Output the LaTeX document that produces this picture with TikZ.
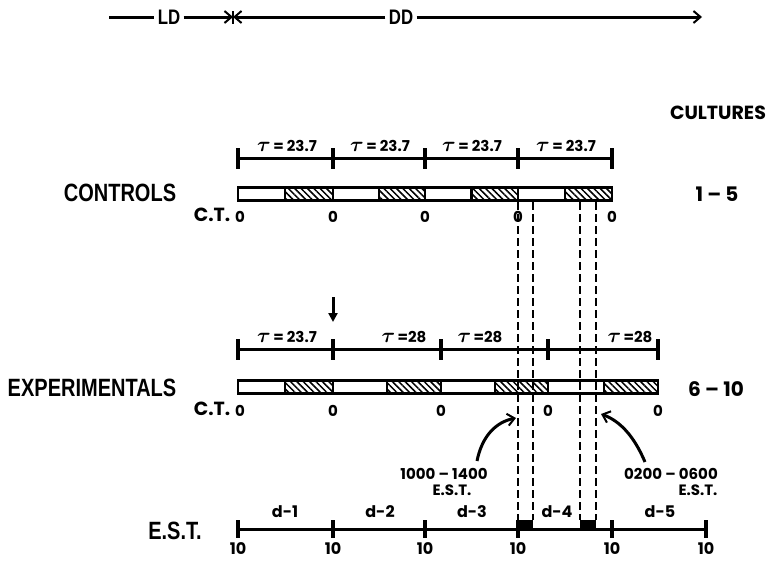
\documentclass[tikz,border=0pt]{standalone}
\usepackage{fontspec}
\setmainfont{Poppins}
\newfontfamily\narrowfont[FakeStretch=0.8]{Liberation Sans}
\usetikzlibrary{arrows.meta,patterns.meta}

\newcommand{\tauval}[1]{{\fontsize{21}{21}\selectfont\boldmath$\tau$}\,#1}

\tikzset{
  bigtext/.style={font=\narrowfont\bfseries\fontsize{25}{25}\selectfont},
  toptext/.style={font=\narrowfont\bfseries\fontsize{21}{21}\selectfont},
  midtext/.style={font=\bfseries\fontsize{19}{19}\selectfont},
  daytext/.style={font=\fontsize{16}{16}\selectfont\bfseries, inner sep=1pt},
  smalltext/.style={font=\bfseries\fontsize{15}{15}\selectfont},
  taulabel/.style={font=\bfseries\fontsize{15}{15}\selectfont, inner sep=1pt},
  tick/.style={fill=black, minimum width=3.2pt, minimum height=21pt, inner sep=0pt, outer sep=0pt},
  axis/.style={line width=3pt},
  blank/.style={draw, line width=2.4pt, minimum height=13pt, inner sep=0pt, outer sep=0pt},
  hatched/.style={blank, pattern={Lines[angle=-45,distance=4.5pt,line width=1.5pt]}},
  block/.style={fill=black, minimum height=10pt, inner sep=0pt, outer sep=0pt},
  dashline/.style={line width=2pt, dash pattern=on 8pt off 4pt},
  barb/.style={-{Straight Barb[length=7pt,width=12pt,line width=2pt]}},
}

\begin{document}
\begin{tikzpicture}[x=1pt,y=-1pt]
\useasboundingbox (0,0) rectangle (766,562);
% LD / DD line
\coordinate (lds) at (109,17);
\coordinate (dde) at (702,17);
\node[toptext] (LD) at (169,17) {LD};
\node[toptext] (DD) at (401,17) {DD};
\node[fill=black, minimum width=2.5pt, minimum height=13pt, inner sep=0pt] (star) at (233,17) {};
\path [axis] (lds) edge (LD);
\path [axis,barb] (LD) edge (star.center);
\path [axis,barb] (DD) edge (star.center);
\path [axis,barb] (DD) edge (dde);

\node[midtext] (cult) at (718,113) {CULTURES};

% controls
\node[bigtext] (ctrl) at (120,193) {CONTROLS};
\node[midtext, font=\bfseries\fontsize{20}{20}\selectfont] (c15) at (717,194) {1 -- 5};
 \begin{scope}[every node/.style={tick}]
  \node (ct0) at (238,158) {};
  \node (ct1) at (333,158) {};
  \node (ct2) at (425,158) {};
  \node (ct3) at (518,158) {};
  \node (ct4) at (612,158) {};
 \end{scope}
  \path [axis] (ct0) edge (ct1);
  \path [axis] (ct1) edge (ct2);
  \path [axis] (ct2) edge (ct3);
  \path [axis] (ct3) edge (ct4);
 \begin{scope}[every node/.style={taulabel}]
  \node (ctau1) at (287,146) {\tauval{= 23.7}};
  \node (ctau2) at (380,146) {\tauval{= 23.7}};
  \node (ctau3) at (472,146) {\tauval{= 23.7}};
  \node (ctau4) at (566,146) {\tauval{= 23.7}};
 \end{scope}
  \node[blank, minimum width=47pt] (cw1) at (261.5,194) {};
  \node[hatched, minimum width=48pt] (ch1) at (309,194) {};
  \node[blank, minimum width=46pt] (cw2) at (356,194) {};
  \node[hatched, minimum width=46pt] (ch2) at (402,194) {};
  \node[blank, minimum width=46.5pt] (cw3) at (448.25,194) {};
  \node[hatched, minimum width=46.5pt] (ch3) at (494.75,194) {};
  \node[blank, minimum width=47pt] (cw4) at (541.5,194) {};
  \node[hatched, minimum width=47pt] (ch4) at (588.5,194) {};
 \node[midtext] (cct) at (212,215) {C.T.};
 \begin{scope}[every node/.style={smalltext}]
  \node (cz0) at (240,217) {0};
  \node (cz1) at (333,217) {0};
  \node (cz2) at (425,217) {0};
  \node (cz3) at (518,217) {0};
  \node (cz4) at (612,217) {0};
 \end{scope}

% experimentals
\node[bigtext] (expt) at (92,388) {EXPERIMENTALS};
\node[midtext, font=\bfseries\fontsize{20}{20}\selectfont] (e610) at (716,389) {6 -- 10};
\coordinate (arrs) at (333,297);
\coordinate (arre) at (333,322);
\path [axis,-{Triangle[length=9pt,width=9pt]}] (arrs) edge (arre);
 \begin{scope}[every node/.style={tick}]
  \node (et0) at (238,349) {};
  \node (et1) at (333,349) {};
  \node (et2) at (441,349) {};
  \node (et3) at (548,349) {};
  \node (et4) at (658,349) {};
 \end{scope}
  \path [axis] (et0) edge (et1);
  \path [axis] (et1) edge (et2);
  \path [axis] (et2) edge (et3);
  \path [axis] (et3) edge (et4);
 \begin{scope}[every node/.style={taulabel}]
  \node (etau1) at (287,337) {\tauval{= 23.7}};
  \node (etau2) at (404,337) {\tauval{=28}};
  \node (etau3) at (480,337) {\tauval{=28}};
  \node (etau4) at (630,337) {\tauval{=28}};
 \end{scope}
  \node[blank, minimum width=47pt] (ew1) at (261.5,387) {};
  \node[hatched, minimum width=48pt] (eh1) at (309,387) {};
  \node[blank, minimum width=54pt] (ew2) at (360,387) {};
  \node[hatched, minimum width=54pt] (eh2) at (414,387) {};
  \node[blank, minimum width=54pt] (ew3) at (468,387) {};
  \node[hatched, minimum width=53pt] (eh3) at (521.5,387) {};
  \node[blank, minimum width=56pt] (ew4) at (576,387) {};
  \node[hatched, minimum width=54pt] (eh4) at (631,387) {};
 \node[midtext] (ect) at (212,409) {C.T.};
 \begin{scope}[every node/.style={smalltext}]
  \node (ez0) at (240,411) {0};
  \node (ez1) at (333,411) {0};
  \node (ez2) at (441,411) {0};
  \node (ez3) at (548,411) {0};
  \node (ez4) at (658,411) {0};
 \end{scope}

% E.S.T. axis
\node[bigtext] (est) at (175,531) {E.S.T.};
 \begin{scope}[every node/.style={tick, minimum height=18pt}]
  \node (es0) at (238,529) {};
  \node (es1) at (333,529) {};
  \node (es2) at (425,529) {};
  \node (es3) at (518,529) {};
  \node (es4) at (612,529) {};
  \node (es5) at (706,529) {};
 \end{scope}
  \path [axis] (es0) edge (es1);
  \path [axis] (es1) edge (es2);
  \path [axis] (es2) edge (es3);
  \path [axis] (es3) edge (es4);
  \path [axis] (es4) edge (es5);
 \begin{scope}[every node/.style={daytext}]
  \node (d1) at (285,512) {d-1};
  \node (d2) at (380,512) {d-2};
  \node (d3) at (472,512) {d-3};
  \node (d4) at (557,512) {d-4};
  \node (d5) at (660,512) {d-5};
  \node (t0) at (238,549) {10};
  \node (t1) at (333,549) {10};
  \node (t2) at (425,549) {10};
  \node (t3) at (518,549) {10};
  \node (t4) at (612,549) {10};
  \node (t5) at (706,549) {10};
 \end{scope}
  \node[block, minimum width=15pt] (b1) at (525.5,525) {};
  \node[block, minimum width=16pt] (b2) at (588,525) {};

% dashed lines
\coordinate (dl1) at (518,202);
\coordinate (dl2) at (533,202);
\coordinate (dl3) at (580,202);
\coordinate (dl4) at (596,202);
  \path [dashline] (dl1) edge (b1.north west);
  \path [dashline] (dl2) edge (b1.north east);
  \path [dashline] (dl3) edge (b2.north west);
  \path [dashline] (dl4) edge (b2.north east);

% windows
 \begin{scope}[every node/.style={taulabel}]
  \node (w1) at (444,474) {1000 -- 1400};
  \node (w1e) at (452,490) {E.S.T.};
  \node (w2) at (671,474) {0200 -- 0600};
  \node (w2e) at (698,490) {E.S.T.};
 \end{scope}
\coordinate (cv1) at (477,461);
\coordinate (cv2) at (645,462);
\draw [axis,barb] (cv1) .. controls (482,436) and (496,422) .. (516,418);
\draw [axis,barb] (cv2) .. controls (634,436) and (620,421) .. (601,414);
\end{tikzpicture}
\end{document}
